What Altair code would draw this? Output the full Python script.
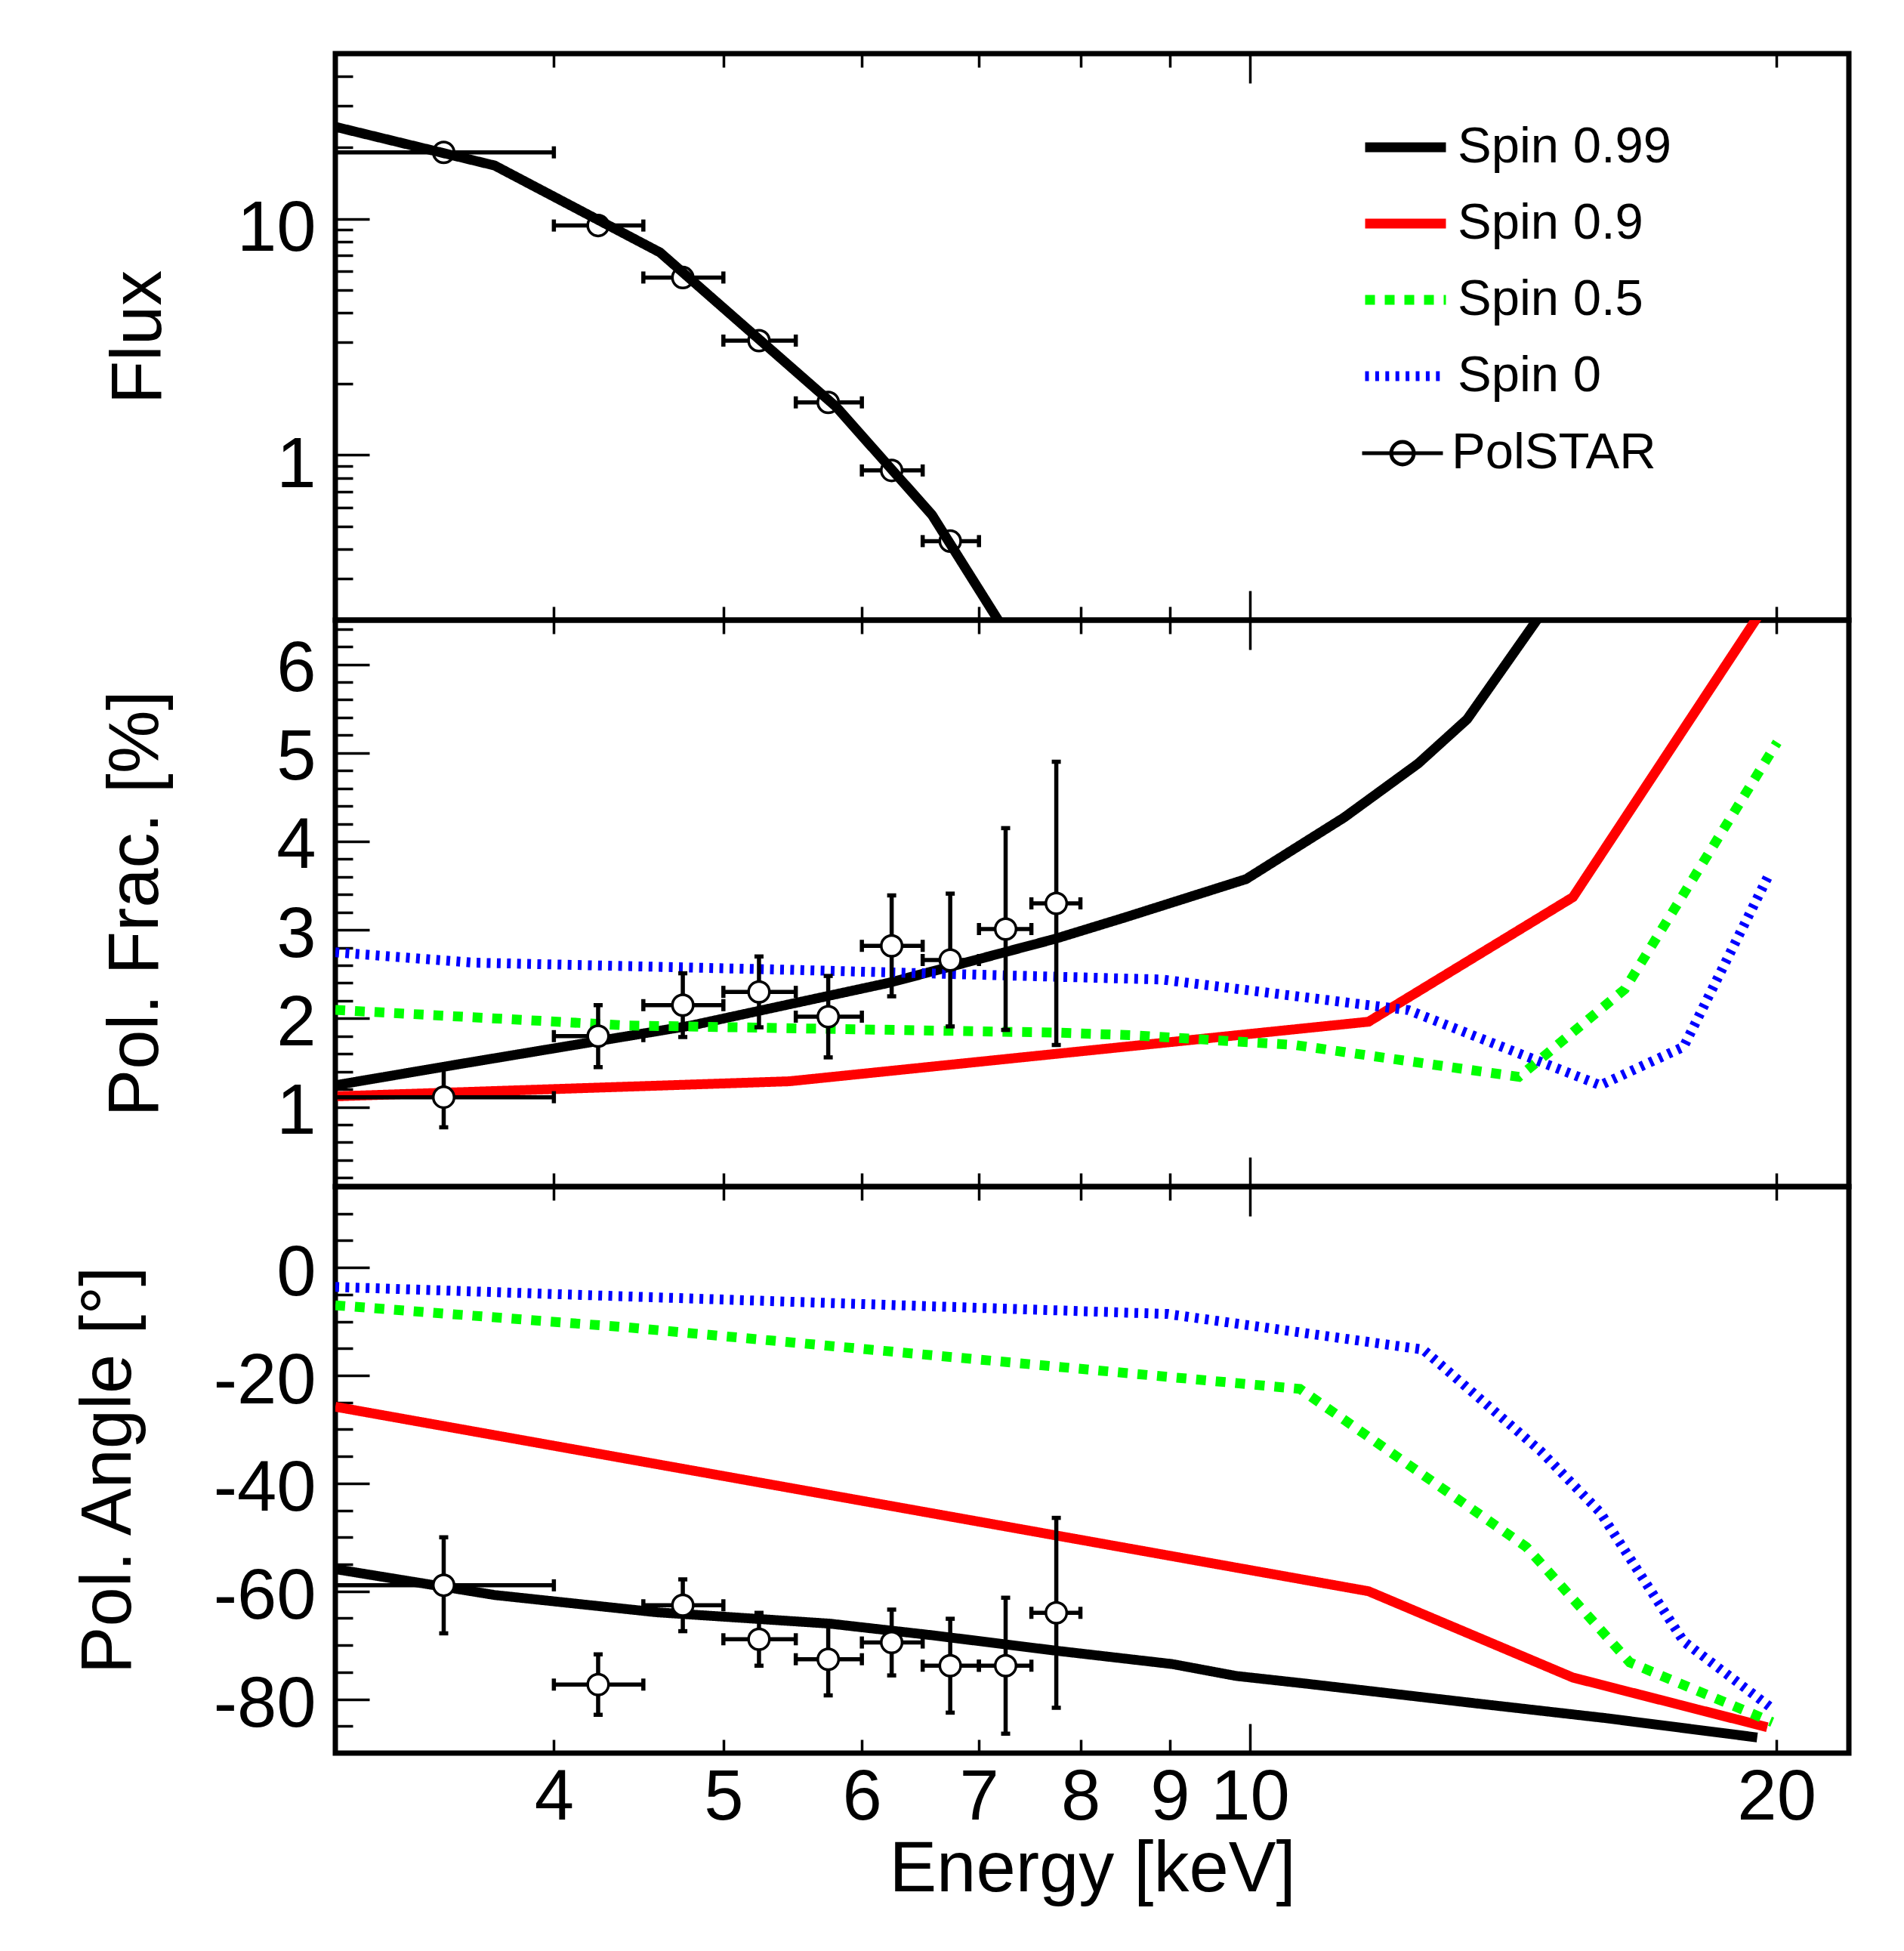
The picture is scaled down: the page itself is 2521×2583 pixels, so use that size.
import altair as alt
import pandas as pd

FONT = "Liberation Sans"

# ---------------- data ----------------
MODELS = ["Spin 0.99", "Spin 0.9", "Spin 0.5", "Spin 0"]
MODEL_COLORS = ["#000000", "#ff0000", "#00ff00", "#0000ff"]
MODEL_DASHES = [[1, 0], [1, 0], [13, 13], [5, 8.4]]

# PolSTAR energy bins (keV)
bin_center = [3.46, 4.24, 4.74, 5.24, 5.74, 6.24, 6.74, 7.25, 7.75]
bin_low = [3.0, 4.0, 4.5, 5.0, 5.5, 6.0, 6.5, 7.0, 7.5]
bin_high = [4.0, 4.5, 5.0, 5.5, 6.0, 6.5, 7.0, 7.5, 8.0]

flux_obs = [19.1, 9.36, 5.64, 3.05, 1.67, 0.86, 0.432]
frac_obs = [1.11, 1.80, 2.15, 2.30, 2.02, 2.82, 2.66, 3.01, 3.30]
frac_err = [0.34, 0.35, 0.36, 0.40, 0.46, 0.57, 0.75, 1.14, 1.60]
angle_obs = [-58.9, -77.3, -62.6, -68.9, -72.6, -69.5, -73.8, -73.8, -64.0]
angle_err = [8.9, 5.6, 4.8, 4.9, 6.7, 6.1, 8.7, 12.6, 17.6]

# model curves (energy, value)
flux_E_099 = [3.0, 3.7, 4.6, 5.8, 6.58, 7.25]
flux_099 = [24.5, 16.8, 7.2, 1.6, 0.558, 0.178]

frac_E_099 = [3.0, 3.535, 4.243, 4.793, 5.454, 6.209, 6.906, 7.74, 8.48, 9.95, 11.32, 12.48, 13.31, 15.0]
frac_099 = [1.245, 1.485, 1.746, 1.92, 2.16, 2.40, 2.64, 2.90, 3.14, 3.574, 4.27, 4.88, 5.38, 6.84]
frac_E_09 = [3.0, 5.454, 11.69, 15.30, 20.0]
frac_09 = [1.12, 1.29, 1.963, 3.37, 6.86]
frac_E_05 = [3.0, 4.41, 7.74, 8.57, 10.61, 14.25, 16.38, 20.02]
frac_05 = [2.096, 1.92, 1.84, 1.81, 1.70, 1.34, 2.33, 5.12]
frac_E_0 = [3.0, 3.6, 5.45, 8.9, 12.32, 15.86, 17.70, 19.82]
frac_0 = [2.747, 2.63, 2.55, 2.44, 2.094, 1.245, 1.68, 3.64]

ang_E_099 = [3.0, 3.7, 4.58, 5.75, 6.6, 7.74, 9.03, 9.82, 10.75, 13.4, 15.96, 19.5]
ang_099 = [-55.9, -60.7, -63.9, -66.0, -68.2, -71.0, -73.5, -75.7, -77.1, -80.7, -83.5, -87.1]
ang_E_09 = [3.0, 11.69, 15.30, 19.76]
ang_09 = [-25.8, -60.0, -76.0, -85.2]
ang_E_05 = [3.0, 4.41, 10.68, 14.39, 16.49, 19.89]
ang_05 = [-7.0, -11.1, -22.5, -51.8, -73.2, -84.25]
ang_E_0 = [3.0, 8.97, 12.56, 14.66, 15.86, 17.70, 19.89]
ang_0 = [-3.6, -8.6, -15.2, -34.0, -45.4, -69.3, -81.75]

# axis tick positions / labels
X_LABELS = [4, 5, 6, 7, 8, 9, 10, 20]
X_MINOR = [4, 5, 6, 7, 8, 9, 20]
X_MAJOR = [10]
FLUX_MAJOR = [1, 10]
FLUX_MINOR = [0.3, 0.4, 0.5, 0.6, 0.7, 0.8, 0.9, 2, 3, 4, 5, 6, 7, 8, 9, 20, 30, 40]
FRAC_MAJOR = [1, 2, 3, 4, 5, 6]
FRAC_MINOR = [0.2, 0.4, 0.6, 0.8, 1.2, 1.4, 1.6, 1.8, 2.2, 2.4, 2.6, 2.8, 3.2, 3.4, 3.6,
              3.8, 4.2, 4.4, 4.6, 4.8, 5.2, 5.4, 5.6, 5.8, 6.2, 6.4]
ANG_MAJOR = [-80, -60, -40, -20, 0]
ANG_MINOR = [-85, -75, -70, -65, -55, -50, -45, -35, -30, -25, -15, -10, -5, 5, 10]

# ---------------- tables ----------------
def model_frame(pairs):
    rows = []
    for name, (es, vs) in pairs.items():
        for e, v in zip(es, vs):
            rows.append({"E": e, "v": v, "model": name})
    return pd.DataFrame(rows)

flux_model_df = model_frame({"Spin 0.99": (flux_E_099, flux_099)})
frac_model_df = model_frame({
    "Spin 0.99": (frac_E_099, frac_099), "Spin 0.9": (frac_E_09, frac_09),
    "Spin 0.5": (frac_E_05, frac_05), "Spin 0": (frac_E_0, frac_0)})
ang_model_df = model_frame({
    "Spin 0.99": (ang_E_099, ang_099), "Spin 0.9": (ang_E_09, ang_09),
    "Spin 0.5": (ang_E_05, ang_05), "Spin 0": (ang_E_0, ang_0)})

n_flux = len(flux_obs)
flux_df = pd.DataFrame({"E": bin_center[:n_flux], "lo": bin_low[:n_flux], "hi": bin_high[:n_flux],
                        "v": flux_obs, "src": ["PolSTAR"] * n_flux})
frac_df = pd.DataFrame({"E": bin_center, "lo": bin_low, "hi": bin_high, "v": frac_obs,
                        "vlo": [v - e for v, e in zip(frac_obs, frac_err)],
                        "vhi": [v + e for v, e in zip(frac_obs, frac_err)]})
ang_df = pd.DataFrame({"E": bin_center, "lo": bin_low, "hi": bin_high, "v": angle_obs,
                       "vlo": [v - e for v, e in zip(angle_obs, angle_err)],
                       "vhi": [v + e for v, e in zip(angle_obs, angle_err)]})

# ---------------- styling helpers ----------------
W, H = 2004, 750
XS = alt.Scale(type="log", domain=[3, 22], nice=False)
YS_FLUX = alt.Scale(type="log", domain=[0.2, 50], nice=False)
YS_FRAC = alt.Scale(domain=[0.1, 6.5], nice=False, zero=False)
YS_ANG = alt.Scale(domain=[-90, 15], nice=False, zero=False)

X_MAJ_LEN, X_MIN_LEN = 39, 18
Y_MAJ_LEN, Y_MIN_LEN = 45, 23
TICK_W = 3.5
BAR_W = 5.5


def tick_axis(orient, values, length):
    # ticks drawn inward: axis line moved inside by its own tick length
    return alt.Axis(orient=orient, values=values, ticks=True, tickSize=length, offset=-length,
                    tickWidth=TICK_W, tickColor="black", labels=False, domain=False,
                    grid=False, title=None)


def y_label_axis(values, title, title_pad, label_offset):
    return alt.Axis(orient="left", values=values, ticks=False, tickSize=0, domain=False,
                    grid=False, labels=True, labelFont=FONT, labelFontSize=94,
                    labelColor="black", labelPadding=26, labelOverlap=False,
                    labelFlush=False, labelOffset=label_offset,
                    labelExpr="'' + datum.value", title=title, titleFont=FONT,
                    titleFontSize=94, titleFontWeight="normal", titleColor="black",
                    titlePadding=title_pad)


x_label_axis = alt.Axis(orient="bottom", values=X_LABELS, ticks=False, tickSize=0, domain=False,
                        grid=False, labels=True, labelFont=FONT, labelFontSize=94,
                        labelColor="black", labelPadding=13, labelOverlap=False,
                        labelFlush=False, labelExpr="'' + datum.value",
                        title="Energy [keV]", titleFont=FONT, titleFontSize=94,
                        titleFontWeight="normal", titleColor="black", titlePadding=2)

line_legend = alt.Legend(orient="none", legendX=1357, legendY=64, title=None,
                         direction="vertical", symbolType="stroke", symbolSize=11449,
                         symbolStrokeWidth=13, labelFont=FONT, labelFontSize=67,
                         labelColor="black", labelOffset=9, labelLimit=1000,
                         rowPadding=8, padding=0)

POL_SYMBOL = "M-1,0L1,0M0.28,0A0.28,0.28,0,1,1,-0.28,0A0.28,0.28,0,1,1,0.28,0"
pol_legend = alt.Legend(orient="none", legendX=1357, legendY=473, title=None,
                        direction="vertical", symbolType=POL_SYMBOL, symbolSize=11449,
                        symbolStrokeWidth=5, symbolFillColor="white", labelFont=FONT,
                        labelFontSize=67, labelColor="black", labelOffset=9,
                        labelLimit=1000, padding=0)


def color_enc(legend):
    return alt.Color("model:N", scale=alt.Scale(domain=MODELS, range=MODEL_COLORS), legend=legend)


def dash_enc(legend):
    return alt.StrokeDash("model:N", scale=alt.Scale(domain=MODELS, range=MODEL_DASHES),
                          legend=legend)


def hcaps(df, ys, xaxis, yaxis):
    return alt.Chart(df).transform_fold(["lo", "hi"], as_=["side", "xe"]).mark_tick(
        orient="vertical", thickness=BAR_W, size=16, color="black", opacity=1, clip=True
    ).encode(x=alt.X("xe:Q", scale=XS, axis=xaxis), y=alt.Y("v:Q", scale=ys, axis=yaxis))


def vcaps(df, ys):
    return alt.Chart(df).transform_fold(["vlo", "vhi"], as_=["side", "ye"]).mark_tick(
        orient="horizontal", thickness=BAR_W, size=12, color="black", opacity=1, clip=True
    ).encode(x=alt.X("E:Q", scale=XS, axis=None), y=alt.Y("ye:Q", scale=ys, axis=None))


POINT_STYLE = dict(shape="circle", filled=True, fill="white", stroke="black",
                   strokeWidth=3.5, size=760, opacity=1)


def points(df, ys, xaxis):
    return alt.Chart(df).mark_point(**POINT_STYLE).encode(
        x=alt.X("E:Q", scale=XS, axis=xaxis), y=alt.Y("v:Q", scale=ys, axis=None))


# ---------------- top panel: flux ----------------
top_bars = alt.Chart(flux_df).mark_rule(strokeWidth=BAR_W, clip=True).encode(
    x=alt.X("lo:Q", scale=XS, axis=tick_axis("bottom", X_MINOR, X_MIN_LEN)),
    x2="hi:Q",
    y=alt.Y("v:Q", scale=YS_FLUX, axis=y_label_axis(FLUX_MAJOR, "Flux", 81, 14)),
    stroke=alt.Stroke("src:N", scale=alt.Scale(domain=["PolSTAR"], range=["black"]),
                      legend=pol_legend),
)
top_caps = hcaps(flux_df, YS_FLUX, tick_axis("bottom", X_MAJOR, X_MAJ_LEN),
                 tick_axis("left", FLUX_MAJOR, Y_MAJ_LEN))
top_pts = alt.Chart(flux_df).mark_point(**POINT_STYLE).encode(
    x=alt.X("E:Q", scale=XS, axis=tick_axis("top", X_MINOR, X_MIN_LEN)),
    y=alt.Y("v:Q", scale=YS_FLUX, axis=tick_axis("left", FLUX_MINOR, Y_MIN_LEN)))
top_line = alt.Chart(flux_model_df).mark_line(strokeWidth=13, clip=True).encode(
    x=alt.X("E:Q", scale=XS, axis=tick_axis("top", X_MAJOR, X_MAJ_LEN)),
    y=alt.Y("v:Q", scale=YS_FLUX, axis=None),
    color=color_enc(line_legend), strokeDash=dash_enc(line_legend))

top = alt.layer(top_bars, top_caps, top_pts, top_line).resolve_axis(
    x="independent", y="independent").properties(width=W, height=H)


# ---------------- middle / bottom panels ----------------
def pol_panel(model_df, df, ys, title, title_pad, label_offset, major, minor, bottom):
    lines = alt.Chart(model_df).mark_line(strokeWidth=13, clip=True).encode(
        x=alt.X("E:Q", scale=XS, axis=tick_axis("bottom", X_MINOR, X_MIN_LEN)),
        y=alt.Y("v:Q", scale=ys, axis=y_label_axis(major, title, title_pad, label_offset)),
        color=color_enc(None), strokeDash=dash_enc(None))
    hbars = alt.Chart(df).mark_rule(strokeWidth=BAR_W, color="black", clip=True).encode(
        x=alt.X("lo:Q", scale=XS, axis=tick_axis("bottom", X_MAJOR, X_MAJ_LEN)),
        x2="hi:Q",
        y=alt.Y("v:Q", scale=ys, axis=tick_axis("left", major, Y_MAJ_LEN)))
    vbars = alt.Chart(df).mark_rule(strokeWidth=BAR_W, color="black", clip=True).encode(
        x=alt.X("E:Q", scale=XS, axis=tick_axis("top", X_MINOR, X_MIN_LEN)),
        y=alt.Y("vlo:Q", scale=ys, axis=tick_axis("left", minor, Y_MIN_LEN)),
        y2="vhi:Q")
    hc = hcaps(df, ys, tick_axis("top", X_MAJOR, X_MAJ_LEN), None)
    vc = vcaps(df, ys)
    pts = points(df, ys, x_label_axis if bottom else None)
    return alt.layer(lines, hbars, vbars, hc, vc, pts).resolve_axis(
        x="independent", y="independent").properties(width=W, height=H)


mid = pol_panel(frac_model_df, frac_df, YS_FRAC, "Pol. Frac. [%]", 137, 7,
                FRAC_MAJOR, FRAC_MINOR, False)
bot = pol_panel(ang_model_df, ang_df, YS_ANG, "Pol. Angle [°]", 90, 8,
                ANG_MAJOR, ANG_MINOR, True)

chart = alt.vconcat(top, mid, bot, spacing=0, bounds="flush").resolve_scale(
    color="independent", strokeDash="independent", stroke="independent"
).configure_view(stroke="black", strokeWidth=7).properties(
    padding={"left": 85, "top": 57, "right": 20, "bottom": 20}, background="white")

chart.save("out.html", embed_options={"renderer": "svg", "actions": False})
